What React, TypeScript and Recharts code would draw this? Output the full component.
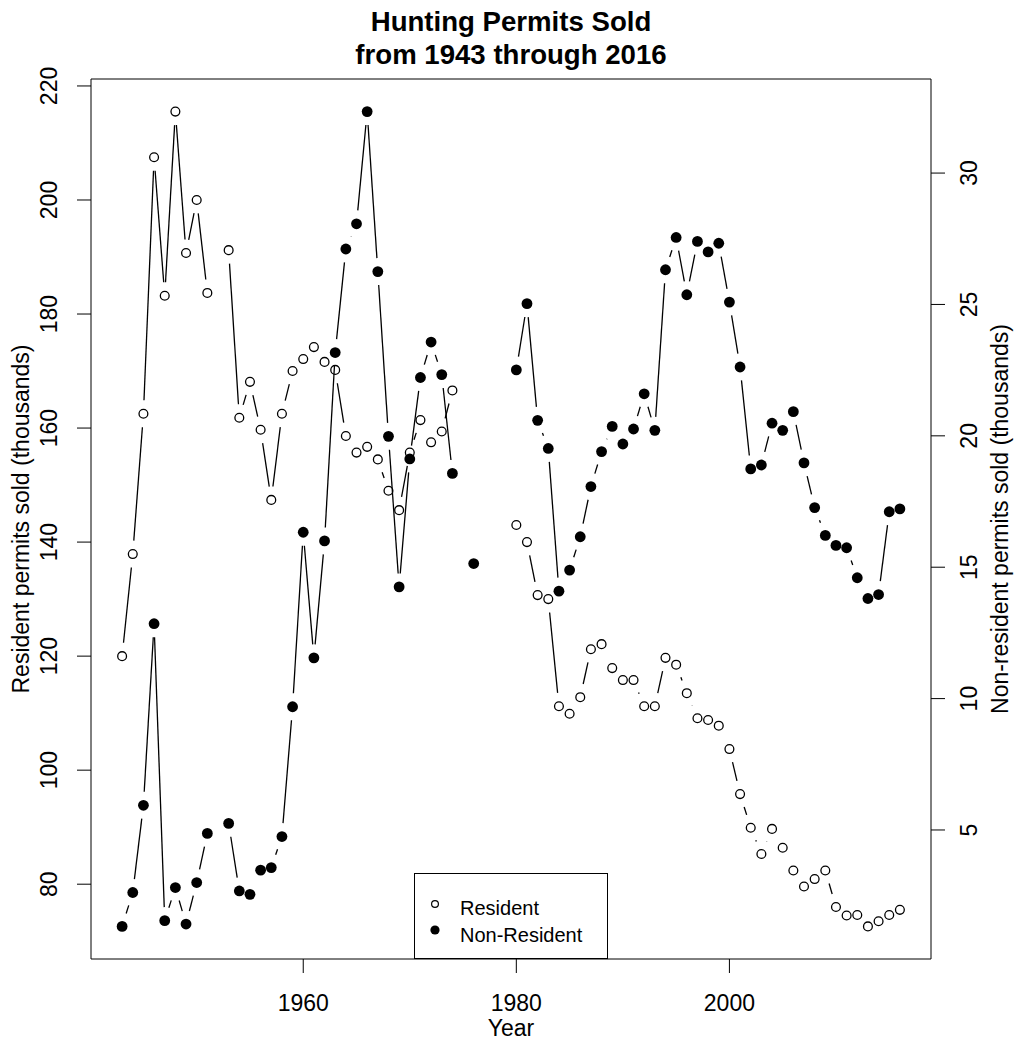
import { ComposedChart, Scatter, XAxis, YAxis, Legend } from "recharts";

const residentYears = [
  1943, 1944, 1945, 1946, 1947, 1948, 1949, 1950, 1951, 1953, 1954, 1955, 1956,
  1957, 1958, 1959, 1960, 1961, 1962, 1963, 1964, 1965, 1966, 1967, 1968, 1969,
  1970, 1971, 1972, 1973, 1974, 1980, 1981, 1982, 1983, 1984, 1985, 1986, 1987,
  1988, 1989, 1990, 1991, 1992, 1993, 1994, 1995, 1996, 1997, 1998, 1999, 2000,
  2001, 2002, 2003, 2004, 2005, 2006, 2007, 2008, 2009, 2010, 2011, 2012, 2013,
  2014, 2015, 2016,
];
const residentValues = [
  120.0, 137.9, 162.5, 207.5, 183.2, 215.5, 190.7, 200.0, 183.7, 191.2, 161.8,
  168.1, 159.7, 147.4, 162.5, 170.0, 172.1, 174.2, 171.6, 170.2, 158.6, 155.7,
  156.7, 154.5, 149.0, 145.6, 155.7, 161.4, 157.5, 159.4, 166.6, 143.0, 140.0,
  130.7, 130.0, 111.2, 109.9, 112.8, 121.2, 122.1, 117.9, 115.8, 115.8, 111.2,
  111.2, 119.7, 118.5, 113.5, 109.1, 108.8, 107.8, 103.7, 95.8, 89.9, 85.3, 89.7,
  86.4, 82.4, 79.6, 80.9, 82.4, 76.0, 74.5, 74.6, 72.6, 73.5, 74.6, 75.5,
];

const nonResidentYears = [
  1943, 1944, 1945, 1946, 1947, 1948, 1949, 1950, 1951, 1953, 1954, 1955, 1956,
  1957, 1958, 1959, 1960, 1961, 1962, 1963, 1964, 1965, 1966, 1967, 1968, 1969,
  1970, 1971, 1972, 1973, 1974, 1976, 1980, 1981, 1982, 1983, 1984, 1985, 1986,
  1987, 1988, 1989, 1990, 1991, 1992, 1993, 1994, 1995, 1996, 1997, 1998, 1999,
  2000, 2001, 2002, 2003, 2004, 2005, 2006, 2007, 2008, 2009, 2010, 2011, 2012,
  2013, 2014, 2015, 2016,
];
const nonResidentValues = [
  1.33, 2.62, 5.94, 12.85, 1.55, 2.81, 1.42, 3.0, 4.87, 5.25, 2.68, 2.55, 3.47,
  3.57, 4.75, 9.69, 16.33, 11.55, 16.0, 23.17, 27.11, 28.07, 32.34, 26.25, 19.98,
  14.25, 19.12, 22.22, 23.57, 22.33, 18.57, 15.14, 22.51, 25.03, 20.59, 19.52,
  14.09, 14.89, 16.16, 18.07, 19.4, 20.36, 19.69, 20.26, 21.6, 20.21, 26.32,
  27.55, 25.37, 27.4, 27.0, 27.33, 25.09, 22.62, 18.74, 18.89, 20.48, 20.21,
  20.92, 18.97, 17.27, 16.21, 15.83, 15.74, 14.6, 13.81, 13.96, 17.11, 17.22,
];

const yearTicks = [1960, 1980, 2000];
const residentTicks = [80, 100, 120, 140, 160, 180, 200, 220];
const nonResidentTicks = [5, 10, 15, 20, 25, 30];

const residentData = residentYears.map((year, i) => ({ year, resident: residentValues[i] }));
const nonResidentData = nonResidentYears.map((year, i) => ({
  year,
  nonResident: nonResidentValues[i],
}));

const FONT = '"Liberation Sans", Arial, Helvetica, sans-serif';
const GAP = 13.5; // R type="b" leaves a gap around every point

// segments between consecutive years, shortened at both ends like R's type="b"
function gapLine(data: { year: number }[]) {
  return (props: any) => {
    const pts = props.points || [];
    const segs = [];
    for (let i = 1; i < pts.length; i++) {
      if (data[i].year - data[i - 1].year !== 1) continue;
      const a = pts[i - 1];
      const b = pts[i];
      const dx = b.x - a.x;
      const dy = b.y - a.y;
      const d = Math.hypot(dx, dy);
      if (d <= 2 * GAP) continue;
      const ux = dx / d;
      const uy = dy / d;
      segs.push(
        <line
          key={i}
          x1={a.x + ux * GAP}
          y1={a.y + uy * GAP}
          x2={b.x - ux * GAP}
          y2={b.y - uy * GAP}
          stroke="#000"
          strokeWidth={1.3}
        />
      );
    }
    return <g>{segs}</g>;
  };
}

const OpenDot = (p: any) => (
  <circle cx={p.cx} cy={p.cy} r={4.4} fill="none" stroke="#000" strokeWidth={1.3} />
);
const FilledDot = (p: any) => <circle cx={p.cx} cy={p.cy} r={5.4} fill="#000" />;

const BottomTick = ({ x, payload }: any) => (
  <text x={x} y={1011} textAnchor="middle" fontSize={23} fontFamily={FONT} fill="#000">
    {payload.value}
  </text>
);

const sideTick = (bx: number) => ({ y, payload }: any) => (
  <text
    x={bx}
    y={y}
    transform={`rotate(-90 ${bx} ${y})`}
    textAnchor="middle"
    fontSize={23}
    fontFamily={FONT}
    fill="#000"
  >
    {payload.value}
  </text>
);

function LegendBox() {
  return (
    <svg width={194} height={86} style={{ display: "block" }}>
      <rect x={0.5} y={0.5} width={193} height={85} fill="#fff" stroke="#000" strokeWidth={1} />
      <circle cx={21} cy={31} r={3.4} fill="none" stroke="#000" strokeWidth={1.2} />
      <circle cx={21} cy={57} r={4.6} fill="#000" />
      <text x={46} y={42} fontSize={20} fontFamily={FONT} fill="#000">
        Resident
      </text>
      <text x={46} y={68.7} fontSize={20} fontFamily={FONT} fill="#000">
        Non-Resident
      </text>
    </svg>
  );
}

export default function App() {
  return (
    <div style={{ position: "absolute", left: 0, top: 0, width: 1018, height: 1042, background: "#fff" }}>
      <ComposedChart
        width={1018}
        height={1042}
        margin={{ top: 78, right: 86, bottom: 82, left: 90 }}
      >
        <XAxis
          dataKey="year"
          type="number"
          domain={[1940.08, 2018.92]}
          allowDataOverflow
          ticks={yearTicks}
          height={1}
          tickSize={14}
          tickMargin={0}
          tick={BottomTick}
          stroke="#000"
        />
        <XAxis
          xAxisId="top"
          orientation="top"
          type="number"
          domain={[1940.08, 2018.92]}
          height={1}
          tick={false}
          tickLine={false}
          stroke="#000"
        />
        <YAxis
          yAxisId="left"
          dataKey="resident"
          type="number"
          domain={[66.88, 221.22]}
          allowDataOverflow
          ticks={residentTicks}
          width={1}
          tickSize={14}
          tickMargin={0}
          tick={sideTick(57)}
          stroke="#000"
        />
        <YAxis
          yAxisId="right"
          orientation="right"
          dataKey="nonResident"
          type="number"
          domain={[0.09, 33.58]}
          allowDataOverflow
          ticks={nonResidentTicks}
          width={1}
          tickSize={14}
          tickMargin={0}
          tick={sideTick(977)}
          stroke="#000"
        />
        <Scatter
          name="Resident"
          data={residentData}
          yAxisId="left"
          shape={OpenDot}
          line={gapLine(residentData)}
          isAnimationActive={false}
        />
        <Scatter
          name="Non-Resident"
          data={nonResidentData}
          yAxisId="right"
          shape={FilledDot}
          line={gapLine(nonResidentData)}
          isAnimationActive={false}
        />
        <Legend
          layout="vertical"
          align="center"
          verticalAlign="middle"
          wrapperStyle={{ left: 414, top: 873, width: 194, height: 86 }}
          content={() => <LegendBox />}
        />
        <g fontFamily={FONT} fill="#000">
          <text x={511} y={31} textAnchor="middle" fontSize={27.6} fontWeight="bold">
            Hunting Permits Sold
          </text>
          <text x={511} y={63.5} textAnchor="middle" fontSize={27.6} fontWeight="bold">
            from 1943 through 2016
          </text>
          <text x={511} y={1036} textAnchor="middle" fontSize={23}>
            Year
          </text>
          <text x={29} y={519} transform="rotate(-90 29 519)" textAnchor="middle" fontSize={23}>
            Resident permits sold (thousands)
          </text>
          <text x={1008} y={519} transform="rotate(-90 1008 519)" textAnchor="middle" fontSize={23}>
            Non-resident permits sold (thousands)
          </text>
        </g>
      </ComposedChart>
    </div>
  );
}
